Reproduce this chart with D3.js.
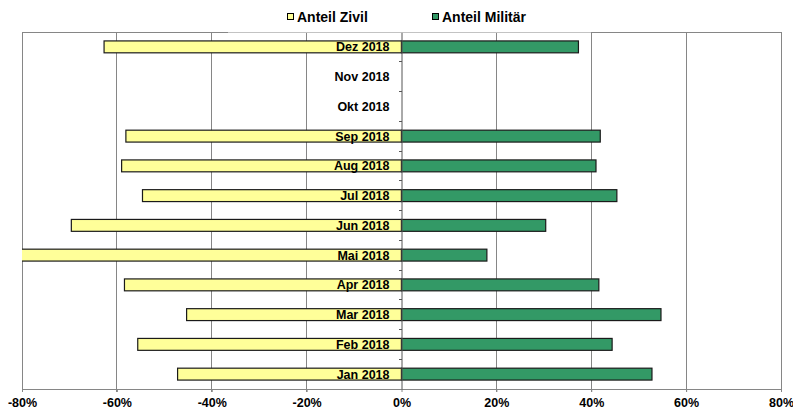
<!DOCTYPE html>
<html>
<head>
<meta charset="utf-8">
<script src="https://cdn.jsdelivr.net/npm/d3@7"></script>
<style>
  html, body { margin: 0; padding: 0; background: #fff; }
  svg { display: block; font-family: "Liberation Sans", Arial, sans-serif; }
</style>
</head>
<body>
<svg id="chart" width="793" height="412"></svg>
<script>
// ---- data ----
const categories = ["Jan 2018","Feb 2018","Mar 2018","Apr 2018","Mai 2018","Jun 2018",
                    "Jul 2018","Aug 2018","Sep 2018","Okt 2018","Nov 2018","Dez 2018"];
const zivil   = [-0.472, -0.556, -0.453, -0.584, -0.820, -0.696, -0.546, -0.590, -0.581, null, null, -0.627];
const militaer = [0.528, 0.444, 0.547, 0.416, 0.180, 0.304, 0.454, 0.410, 0.419, null, null, 0.373];
const xTicks = [-0.8, -0.6, -0.4, -0.2, 0, 0.2, 0.4, 0.6, 0.8];
const seriesNames = ["Anteil Zivil", "Anteil Militär"];

// ---- layout ----
const svg = d3.select("#chart");
const pLeft = 22, pRight = 781, pTop = 32, pBottom = 389;
const colZivil = "#FFFF99", colMil = "#339966";

const x = d3.scaleLinear().domain([-0.8, 0.8]).range([pLeft, pRight]);
const y = d3.scaleBand().domain(categories).range([pBottom, pTop]).paddingInner(0.6).paddingOuter(0.3);

// clip
svg.append("defs").append("clipPath").attr("id", "plotclip")
  .append("rect").attr("x", pLeft).attr("y", pTop).attr("width", pRight - pLeft).attr("height", pBottom - pTop);

// gridlines
svg.append("g").selectAll("line").data(xTicks.filter(t => t !== 0)).join("line")
  .attr("x1", d => x(d)).attr("x2", d => x(d))
  .attr("y1", pTop).attr("y2", pBottom + 3)
  .attr("stroke", "#868686").attr("stroke-width", 1).attr("shape-rendering", "crispEdges");

// border top
svg.append("line").attr("x1", pLeft).attr("x2", pRight).attr("y1", pTop).attr("y2", pTop)
  .attr("stroke", "#868686").attr("shape-rendering", "crispEdges");

// x axis (bottom)
const xAxis = d3.axisBottom(x).tickValues(xTicks).tickFormat(d3.format(".0%")).tickSize(3).tickPadding(6);
const gx = svg.append("g").attr("transform", `translate(0,${pBottom})`).call(xAxis);
gx.select(".domain").attr("stroke", "#868686");
gx.selectAll(".tick line").attr("stroke", "#868686");
gx.selectAll(".tick text").attr("font-size", "12.5px").attr("font-weight", "bold").attr("fill", "#000")
  .attr("font-family", "'Liberation Sans', Arial, sans-serif");
gx.selectAll(".tick text").text(d => d3.format(".0%")(d).replace("−", "-"));

// bars
const plot = svg.append("g").attr("clip-path", "url(#plotclip)");
const rows = categories.map((c, i) => ({ c, z: zivil[i], m: militaer[i] }));

plot.selectAll("rect.z").data(rows.filter(d => d.z != null)).join("rect")
  .attr("class", "z")
  .attr("x", d => x(d.z)).attr("width", d => x(0) - x(d.z))
  .attr("y", d => y(d.c)).attr("height", y.bandwidth())
  .attr("fill", colZivil).attr("stroke", "#1a1a1a").attr("stroke-width", 1.2);

plot.selectAll("rect.m").data(rows.filter(d => d.m != null)).join("rect")
  .attr("class", "m")
  .attr("x", x(0)).attr("width", d => x(d.m) - x(0))
  .attr("y", d => y(d.c)).attr("height", y.bandwidth())
  .attr("fill", colMil).attr("stroke", "#1a1a1a").attr("stroke-width", 1.2);

// y axis at 0
const yAxis = d3.axisLeft(y).tickSize(0).tickFormat("");
const gy = svg.append("g").attr("transform", `translate(${x(0)},0)`).call(yAxis);
gy.select(".domain").attr("stroke", "#555");
// boundary ticks between categories
const step = y.step();
const bounds = d3.range(1, categories.length).map(i => pBottom - i * step);
svg.append("g").selectAll("line").data(bounds).join("line")
  .attr("x1", x(0) - 3).attr("x2", x(0)).attr("y1", d => d).attr("y2", d => d)
  .attr("stroke", "#555").attr("shape-rendering", "crispEdges");

// category labels
svg.append("g").selectAll("text").data(categories).join("text")
  .attr("x", x(0) - 12)
  .attr("y", d => y(d) + y.bandwidth() / 2)
  .attr("dy", "0.36em")
  .attr("text-anchor", "end")
  .attr("font-size", "12.5px").attr("font-weight", "bold").attr("fill", "#000")
  .text(d => d);

// legend (white box covering top border)
svg.append("rect").attr("x", 228).attr("y", 0).attr("width", 363).attr("height", pTop + 0.5).attr("fill", "#fff");
const legendX = [287, 432];
const colors = [colZivil, colMil];
const lg = svg.append("g");
seriesNames.forEach((n, i) => {
  lg.append("rect").attr("x", legendX[i] + 0.5).attr("y", 13.5).attr("width", 6).attr("height", 6)
    .attr("fill", colors[i]).attr("stroke", "#000").attr("stroke-width", 1);
  lg.append("text").attr("x", legendX[i] + 10).attr("y", 21.5)
    .attr("font-size", "14px").attr("font-weight", "bold").attr("fill", "#000").text(n);
});
</script>
</body>
</html>
